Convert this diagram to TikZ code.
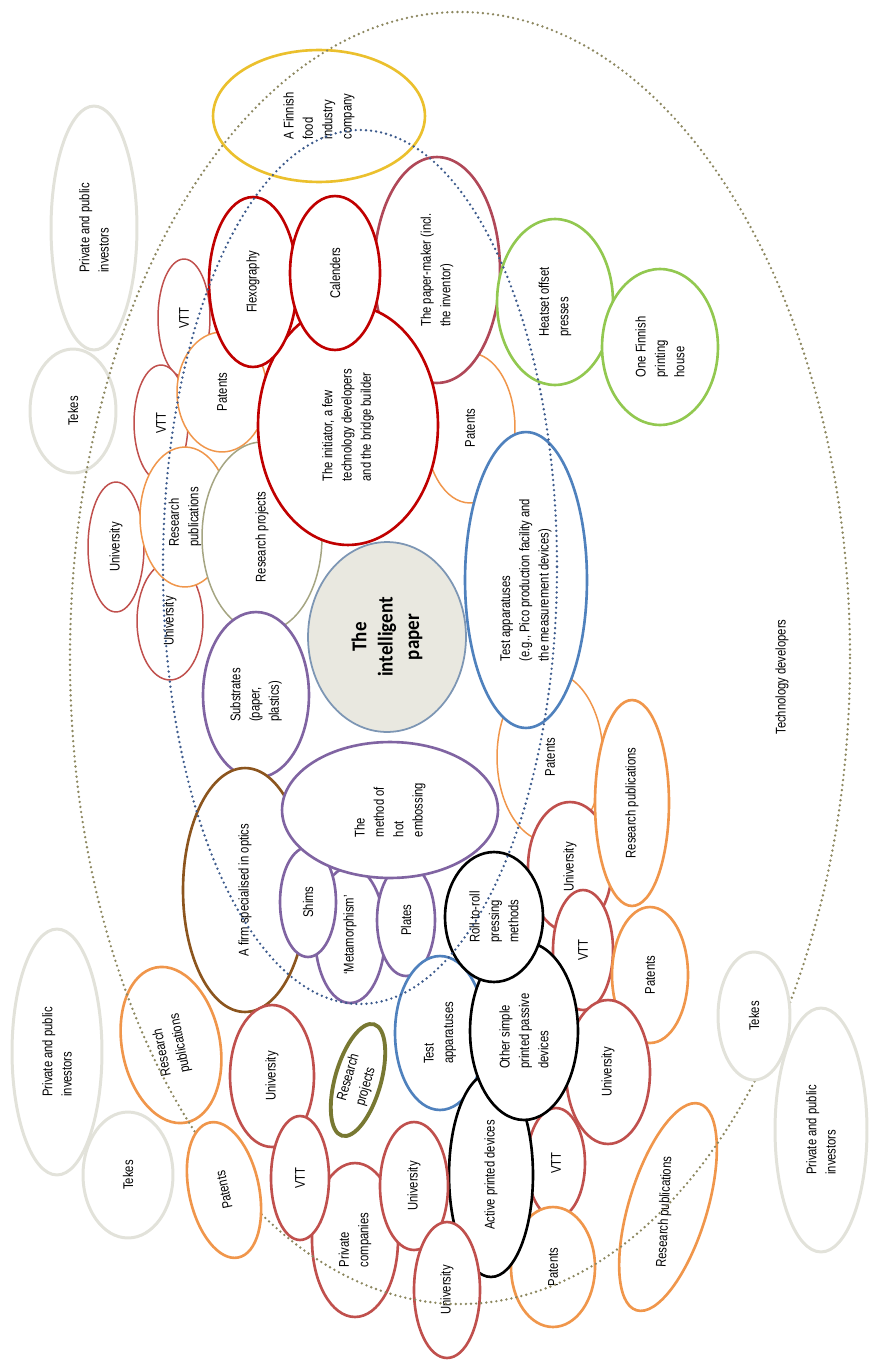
\documentclass[tikz,border=0pt]{standalone}
\usepackage{fontspec}
\setmainfont{Liberation Sans}[FakeStretch=0.8]
\newfontfamily\titlefont{Carlito}[FakeStretch=0.9]
\definecolor{bubgray}{RGB}{226,226,218}
\definecolor{bubyellow}{RGB}{235,192,45}
\definecolor{bubrose}{RGB}{192,80,77}
\definecolor{bubred}{RGB}{192,0,0}
\definecolor{bubpaper}{RGB}{176,72,88}
\definecolor{buborange}{RGB}{240,150,75}
\definecolor{bubpurple}{RGB}{128,100,162}
\definecolor{bubblue}{RGB}{79,129,189}
\definecolor{bubgreen}{RGB}{146,200,80}
\definecolor{bubbrown}{RGB}{140,85,30}
\definecolor{bubolive}{RGB}{165,165,130}
\definecolor{bubdkolive}{RGB}{120,120,50}
\definecolor{dotolive}{RGB}{140,135,95}
\definecolor{dotblue}{RGB}{60,90,140}
\definecolor{paperfill}{RGB}{233,232,224}
\definecolor{paperline}{RGB}{125,150,180}
\usetikzlibrary{shapes.geometric}

\begin{document}
\begin{tikzpicture}[x=0.02cm, y=-0.02cm, every node/.style={font=\fontsize{8}{11}\selectfont},
    bub/.style={ellipse, draw, fill=white, line width=0.85pt, inner sep=0pt, align=left, rotate=#1},
    bub/.default=90,
    sz/.style 2 args={minimum height=#1*0.04cm, minimum width=#2*0.04cm},
    heavy/.style={line width=1.5pt},
    pale/.style={draw=bubgray, line width=1.7pt},
    dots/.style={line cap=round, dash pattern=on 0pt off 2.9pt, line width=1.5pt}]
  \useasboundingbox (0,0) rectangle (869,1362);
  % investors, Tekes, food company
  \node[bub, pale, sz={43}{122}] (invA) at (94,228) {Private and public\\investors};
  \node[bub, pale, sz={43}{62}] (tekA) at (73,411) {Tekes};
  \node[bub, pale, sz={45}{123}] (invB) at (57,1052) {Private and public\\investors};
  \node[bub, pale, sz={45}{63}] (tekB) at (128,1175) {Tekes};
  \node[bub, pale, sz={46}{122}] (invC) at (821,1130) {Private and public\\investors};
  \node[bub, draw=bubyellow, heavy, sz={106}{66}] (food) at (319,116) {A Finnish\\food\\industry\\company};
  % upper cluster
  \node[bub, draw=bubrose, sz={26}{59}] (vttA) at (184,318) {VTT};
  \node[bub, draw=bubrose, sz={27}{58}] (vttB) at (161,423) {VTT};
  \node[bub, draw=bubrose, sz={28}{65}] (uniA) at (116,547) {University};
  \node[bub, draw=bubrose, sz={33}{59}] (uniB) at (170,621) {University};
  \node[bub, draw=buborange, sz={45}{60}] (patA) at (222,392) {Patents};
  \node[bub, draw=buborange, sz={45}{70}] (pubA) at (185,517) {Research\\publications};
  \node[bub, draw=bubolive, sz={60}{95}] (projA) at (262,537) {Research projects};
  \node[bub, draw=buborange, sz={45}{75}] (patB) at (470,428) {Patents};
  \node[bub, draw=bubpaper, heavy, sz={63}{113}] (papmk) at (437,270) {The paper-maker (incl.\\the inventor)};
  \node[bub, draw=bubred, heavy, sz={90}{120}] (init) at (348,425) {The initiator, a few\\technology developers\\and the bridge builder};
  \node[bub, draw=bubred, heavy, sz={44}{85}] (flexo) at (253,282) {Flexography};
  \node[bub, draw=bubred, heavy, sz={45}{77}] (calen) at (335,273) {Calenders};
  \node[bub, draw=bubgreen, heavy, sz={58}{83}] (heat) at (555,302) {Heatset offset\\presses};
  \node[bub, draw=bubgreen, heavy, sz={58}{78}] (prnt) at (660,347) {One Finnish\\printing\\house};
  % right of the centre
  \node[bub, draw=buborange, sz={53}{85}] (patC) at (550,757) {Patents};
  \node[bub, draw=bubrose, heavy, sz={42}{65}] (uniC) at (570,867) {University};
  \node[bub, draw=buborange, heavy, sz={37}{103}] (pubB) at (632,803) {Research publications};
  \node[bub, draw=bubblue, heavy, sz={61}{148}] (testA) at (526,580) {Test apparatuses\\(e.g., Pico production facility and\\the measurement devices)};
  % embossing cluster
  \node[bub, draw=bubpurple, heavy, sz={53}{83}] (subs) at (256,695) {Substrates\\(paper,\\plastics)};
  \node[bub, draw=bubbrown, heavy, sz={62}{122}] (firm) at (245,890) {A firm specialised in optics};
  \node[bub, draw=bubpurple, heavy, sz={35}{68}] (meta) at (350,935) {`Metamorphism'};
  \node[bub, draw=bubpurple, heavy, sz={28}{55}] (shims) at (308,902) {Shims};
  \node[bub, draw=bubpurple, heavy, sz={29}{56}] (plates) at (406,920) {Plates};
  \node[bub, draw=bubpurple, heavy, sz={108}{68}] (hemb) at (390,810) {The\\method of\\hot\\embossing};
  % printed devices cluster
  \node[bub, draw=bubrose, heavy, sz={30}{60}] (vttC) at (583,950) {VTT};
  \node[bub, draw=buborange, heavy, sz={38}{68}] (patD) at (650,975) {Patents};
  \node[bub, draw=bubrose, heavy, sz={42}{72}] (uniD) at (608,1072) {University};
  \node[bub, draw=bubrose, heavy, sz={29}{55}] (vttD) at (556,1163) {VTT};
  \node[bub, draw=buborange, heavy, sz={42}{60}] (patE) at (553,1267) {Patents};
  \node[bub, draw=bubblue, heavy, sz={45}{77}] (testB) at (440,1033) {Test\\apparatuses};
  \node[bub, draw=black, heavy, sz={42}{102}] (actv) at (491,1175) {Active printed devices};
  \node[bub, draw=black, heavy, sz={54}{89}] (other) at (524,1031) {Other simple\\printed passive\\devices};
  \node[bub, draw=black, heavy, sz={49}{65}] (roll) at (494,917) {Roll-to-roll\\pressing\\methods};
  \node[bub=73, draw=buborange, heavy, sz={39}{108}] (pubC) at (668,1207) {};
  \node[rotate=87] (pubCtext) at (665,1212) {Research publications};
  % lower left cluster
  \node[bub=101, draw=buborange, heavy, sz={49}{79}] (pubD) at (171,1045) {Research\\publications};
  \node[bub, draw=bubrose, heavy, sz={42}{71}] (uniE) at (272,1076) {University};
  \node[bub=74, draw=bubdkolive, line width=2.2pt, sz={21}{58}] (projB) at (358,1080) {Research\\projects};
  \node[bub, draw=bubrose, heavy, sz={43}{77}] (pcomp) at (355,1240) {Private\\companies};
  \node[bub, draw=bubrose, heavy, sz={29}{62}] (vttE) at (300,1178) {VTT};
  \node[bub, draw=bubrose, heavy, sz={34}{64}] (uniF) at (414,1186) {University};
  \node[bub, draw=bubrose, heavy, sz={33}{68}] (uniG) at (447,1290) {University};
  % the centre
  \node[bub, draw=paperline, fill=paperfill, line width=1pt, sz={79}{95}, align=center,
        font=\titlefont\bfseries\fontsize{12}{15}\selectfont] (paper) at (387,637) {The\\intelligent\\paper};
  % the technology developers
  \draw[dots, color=dotolive] (460,658) ellipse [x radius=390, y radius=646];
  \node[bub=102, draw=buborange, heavy, sz={35}{69}] (patF) at (224,1190) {Patents};
  \node[bub, pale, sz={36}{64}] (tekC) at (754,1016) {Tekes};
  \draw[dots, color=dotblue] (360,567) ellipse [x radius=197, y radius=437];
  \node[rotate=90] (techdev) at (782,677) {Technology developers};
\end{tikzpicture}
\end{document}
